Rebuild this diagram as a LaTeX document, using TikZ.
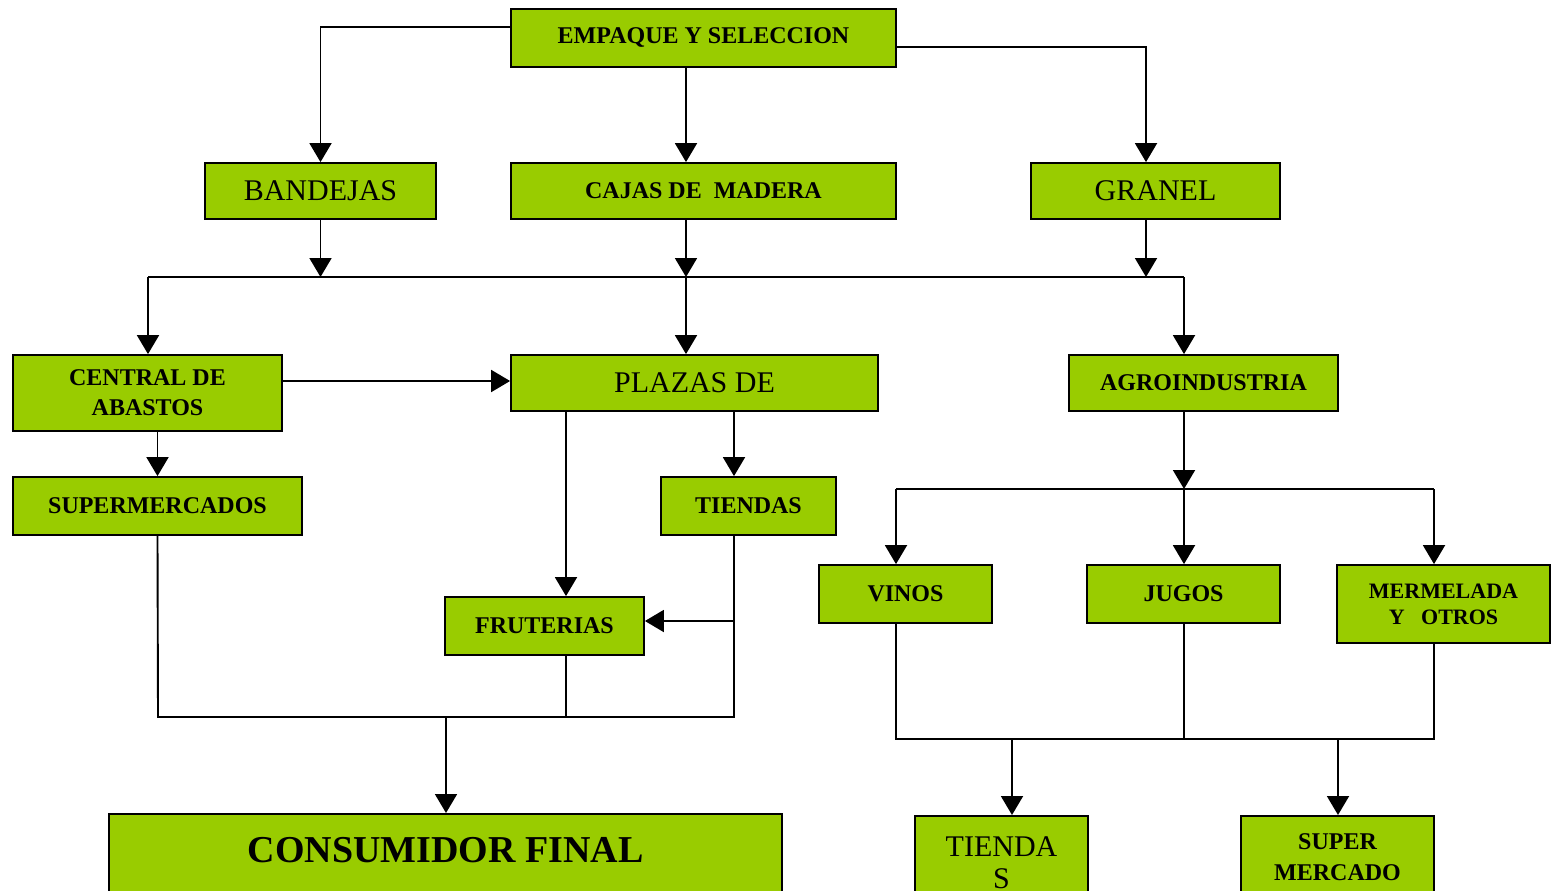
\documentclass[tikz,border=0pt]{standalone}
\usepackage{fontspec}
\setmainfont{Liberation Serif}
\usepackage{tikz}
\usetikzlibrary{arrows.meta}
\usetikzlibrary{positioning}
\definecolor{boxgreen}{HTML}{99CC00}

\begin{document}
\begin{tikzpicture}[
  x=1pt, y=-1pt,
  box/.style={
    draw, fill=boxgreen, line width=1.8pt,
    inner sep=0pt, align=center,
    font=\bfseries\fontsize{24}{30}\selectfont
  },
  lighttext/.style={font=\fontsize{30}{32}\selectfont},
  arrow/.style={-{Triangle[length=19pt,width=22pt]}, line width=1.9pt},
  line/.style={line width=1.9pt}
]
\useasboundingbox (0,0) rectangle (1555,891);

% Nodes
\node[box, minimum width=385pt, minimum height=58pt] (emp) at (703.5,38) {EMPAQUE Y SELECCION};
\node[box, lighttext, minimum width=231pt, minimum height=56pt] (band) at (320.5,191) {BANDEJAS};
\node[box, minimum width=385pt, minimum height=56pt] (cajas) at (703.5,191) {CAJAS DE~~MADERA};
\node[box, lighttext, minimum width=249pt, minimum height=56pt] (gran) at (1155.5,191) {GRANEL};
\node[box, minimum width=269pt, minimum height=76pt] (cent) at (147.5,393) {CENTRAL DE\\ABASTOS};
\node[box, lighttext, minimum width=367pt, minimum height=56pt] (plaz) at (694.5,383) {PLAZAS DE};
\node[box, minimum width=269pt, minimum height=56pt] (agro) at (1203.5,383) {AGROINDUSTRIA};
\node[box, minimum width=289pt, minimum height=58pt] (supm) at (157.5,506) {SUPERMERCADOS};
\node[box, minimum width=175pt, minimum height=58pt] (tnd) at (748.5,506) {TIENDAS};
\node[box, minimum width=199pt, minimum height=58pt] (frut) at (544.5,626) {FRUTERIAS};
\node[box, minimum width=173pt, minimum height=58pt] (vin) at (905.5,594) {VINOS};
\node[box, minimum width=193pt, minimum height=58pt] (jug) at (1183.5,594) {JUGOS};
\node[box, minimum width=213pt, minimum height=78pt, font=\bfseries\fontsize{22}{26}\selectfont] (merm) at (1443.5,604) {MERMELADA\\Y~~~OTROS};
\node[box, anchor=north, minimum width=673pt, text height=49pt, text depth=60pt,
  font=\bfseries\fontsize{38}{40}\selectfont] (cons) at (445.5,813) {CONSUMIDOR FINAL};
\node[box, lighttext, anchor=north, minimum width=173pt, text height=73pt, text depth=40pt] (tnd2) at (1001.5,815) {TIENDA\\S};
\node[box, anchor=north, minimum width=193pt, text height=65pt, text depth=40pt,
  font=\bfseries\fontsize{24}{31}\selectfont] (supm2) at (1337.5,815) {SUPER\\MERCADO};

% Bus points
\coordinate (busA) at (148,277);
\coordinate (busB) at (1184,277);
\coordinate (busC) at (158,717);
\coordinate (busD) at (734,717);
\coordinate (busE) at (896,489);
\coordinate (busF) at (1434,489);
\coordinate (busG) at (896,739);
\coordinate (busH) at (1434,739);

% Arrows
\draw[arrow] ([yshift=11pt]emp.west) -| (band.north);
\draw[arrow] (emp.south -| 686,0) -- (cajas.north -| 686,0);
\draw[arrow] ([yshift=-9pt]emp.east) -| ([xshift=-9.5pt]gran.north);

\draw[line] (busA) -- (busB);
\draw[arrow] (band.south) -- (band.south |- busA);
\draw[arrow] (cajas.south -| 686,0) -- (686,277);
\draw[arrow] ([xshift=-9.5pt]gran.south) -- ([xshift=-9.5pt]gran.south |- busA);

\draw[arrow] (busA) -- (busA |- cent.north);
\draw[arrow] (686,277) -- (plaz.north -| 686,0);
\draw[arrow] (busB) -- (busB |- agro.north);

\draw[arrow] ([yshift=12pt]cent.east) -- ([yshift=12pt]cent.east -| plaz.west);
\draw[arrow] (supm.north |- cent.south) -- (supm.north);
\draw[arrow] (plaz.south -| 566,0) -- (frut.north -| 566,0);
\draw[arrow] (plaz.south -| busD) -- (tnd.north -| busD);
\draw[arrow] (busD |- 0,621) -- (frut.east |- 0,621);

\draw[line] (supm.south) -- (busC) -- (busD) -- (tnd.south -| busD);
\draw[line] (frut.south -| 566,0) -- (566,717);
\draw[arrow] (446,717) -- (cons.north -| 446,0);

\draw[arrow] (agro.south -| busB) -- (1184,489);
\draw[line] (busE) -- (busF);
\draw[arrow] (busE) -- (busE |- vin.north);
\draw[arrow] (1184,489) -- (jug.north -| 1184,0);
\draw[arrow] (busF) -- (busF |- merm.north);

\draw[line] (vin.south -| busG) -- (busG) -- (busH) -- (merm.south -| busH);
\draw[line] (jug.south -| 1184,0) -- (1184,739);
\draw[arrow] (1012,739) -- (tnd2.north -| 1012,0);
\draw[arrow] (1338,739) -- (supm2.north -| 1338,0);
\end{tikzpicture}
\end{document}
